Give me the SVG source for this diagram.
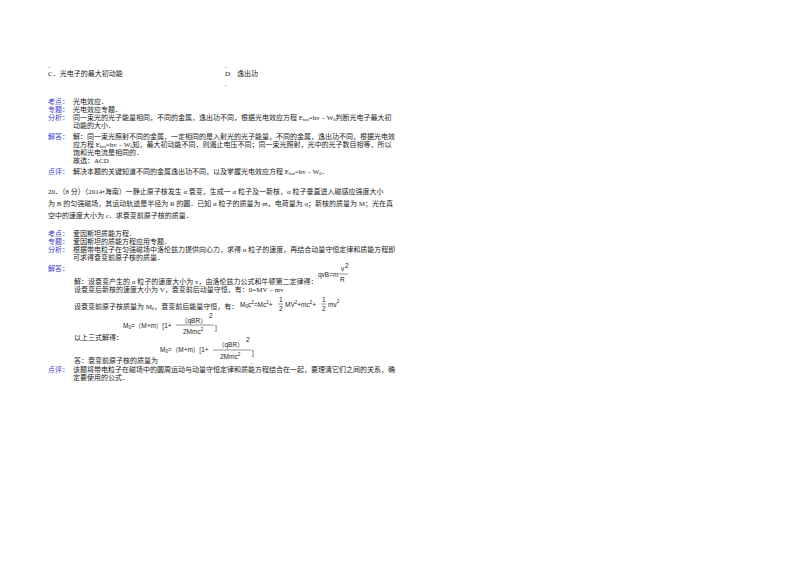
<svg xmlns="http://www.w3.org/2000/svg" width="800" height="566" viewBox="0 0 800 566">
<style>
text{font-family:"Liberation Serif","Noto Sans CJK SC",serif;font-size:7px;fill:#222}
.l{fill:#3a3ad0}
.f{font-family:"Liberation Sans","Noto Sans CJK SC",sans-serif;font-size:6.5px}
</style>
<rect width="800" height="566" fill="#fff"/>
<g id="options">
<text x="48" y="68">.</text>
<text x="48" y="76">C．光电子的最大初动能</text>
<text x="225" y="68">.</text>
<text x="225" y="76">D　逸出功</text>
<text x="225" y="86">.</text>
</g>
<g id="q19">
<text class="l" x="48" y="104">考点：</text><text x="73" y="104">光电效应．</text>
<text class="l" x="48" y="112">专题：</text><text x="73" y="112">光电效应专题．</text>
<text class="l" x="48" y="120">分析：</text><text x="73" y="120">同一束光的光子能量相同，不同的金属，逸出功不同，根据光电效应方程 E<tspan font-size="4.5" dy="1">km</tspan><tspan dy="-1">=hv﹣W</tspan><tspan font-size="4.5" dy="1">0</tspan><tspan dy="-1">判断光电子最大初</tspan></text>
<text x="73" y="128">动能的大小．</text>
<text class="l" x="48" y="139">解答：</text><text x="73" y="139">解：同一束光照射不同的金属，一定相同的是入射光的光子能量，不同的金属，逸出功不同，根据光电效</text>
<text x="73" y="147">应方程 E<tspan font-size="4.5" dy="1">km</tspan><tspan dy="-1">=hv﹣W</tspan><tspan font-size="4.5" dy="1">0</tspan><tspan dy="-1">知，最大初动能不同，则遏止电压不同；同一束光照射，光中的光子数目相等，所以</tspan></text>
<text x="73" y="155">饱和光电流是相同的．</text>
<text x="73" y="163">故选：ACD</text>
<text class="l" x="48" y="174">点评：</text><text x="73" y="174">解决本题的关键知道不同的金属逸出功不同，以及掌握光电效应方程 E<tspan font-size="4.5" dy="1">km</tspan><tspan dy="-1">=hv﹣W</tspan><tspan font-size="4.5" dy="1">0</tspan><tspan dy="-1">．</tspan></text>
</g>
<g id="q20">
<text x="48" y="194">20．（8 分）（2014•海南）一静止原子核发生 α 衰变，生成一 α 粒子及一新核，α 粒子垂直进入磁感应强度大小</text>
<text x="48" y="206">为 B 的匀强磁场，其运动轨迹是半径为 R 的圆．已知 α 粒子的质量为 m，电荷量为 q；新核的质量为 M；光在真</text>
<text x="48" y="218">空中的速度大小为 c．求衰变前原子核的质量．</text>
<text class="l" x="48" y="236">考点：</text><text x="73" y="236">爱因斯坦质能方程．</text>
<text class="l" x="48" y="244">专题：</text><text x="73" y="244">爱因斯坦的质能方程应用专题．</text>
<text class="l" x="48" y="252">分析：</text><text x="73" y="252">根据带电粒子在匀强磁场中洛伦兹力提供向心力，求得 α 粒子的速度，再结合动量守恒定律和质能方程即</text>
<text x="73" y="260">可求得衰变前原子核的质量．</text>
<text class="l" x="48" y="271">解答：</text>
<text x="74" y="284">解：设衰变产生的 α 粒子的速度大小为 v，由洛伦兹力公式和牛顿第二定律得：</text>
<text class="f" x="318" y="277">qvB=m</text><text class="f" x="341" y="271" font-size="5">v</text><text class="f" x="345" y="268" font-size="4">2</text>
<line x1="339" y1="274" x2="348" y2="274" stroke="#222" stroke-width="0.5"/><text class="f" x="340" y="282">R</text>
<text x="74" y="292">设衰变后新核的速度大小为 V，衰变前后动量守恒，有：0=MV﹣mv</text>
<text x="74" y="309">设衰变前原子核质量为 M<tspan font-size="4.5" dy="1">0</tspan><tspan dy="-1">，衰变前后能量守恒，有：</tspan></text>
<text class="f" x="240" y="307">M<tspan font-size="4.5" dy="1">0</tspan><tspan dy="-1">c</tspan><tspan font-size="4.5" dy="-3">2</tspan><tspan dy="3">=Mc</tspan><tspan font-size="4.5" dy="-3">2</tspan><tspan dy="3">+</tspan></text>
<text class="f" x="279" y="302">1</text><line x1="278" y1="304" x2="283" y2="304" stroke="#222" stroke-width="0.5"/><text class="f" x="279" y="311">2</text>
<text class="f" x="285" y="307">MV<tspan font-size="4.5" dy="-3">2</tspan><tspan dy="3">+mc</tspan><tspan font-size="4.5" dy="-3">2</tspan><tspan dy="3">+</tspan></text>
<text class="f" x="322" y="302">1</text><line x1="321" y1="304" x2="326" y2="304" stroke="#222" stroke-width="0.5"/><text class="f" x="322" y="311">2</text>
<text class="f" x="328" y="307">mv<tspan font-size="4.5" dy="-4">2</tspan></text>
<text class="f" x="123" y="328">M<tspan font-size="4.5" dy="1">0</tspan><tspan dy="-1">=（M+m）[1+</tspan></text>
<text class="f" x="181" y="323">（qBR）</text><text class="f" x="209" y="318" font-size="5">2</text>
<line x1="176" y1="325" x2="214" y2="325" stroke="#222" stroke-width="0.5"/>
<text class="f" x="183" y="334">2Mmc<tspan font-size="4.5" dy="-3">2</tspan></text><text class="f" x="215" y="330">]</text>
<text x="74" y="340">以上三式解得：</text>
<text class="f" x="160" y="352">M<tspan font-size="4.5" dy="1">0</tspan><tspan dy="-1">=（M+m）[1+</tspan></text>
<text class="f" x="218" y="347">（qBR）</text><text class="f" x="246" y="342" font-size="5">2</text>
<line x1="213" y1="350" x2="251" y2="350" stroke="#222" stroke-width="0.5"/>
<text class="f" x="220" y="359">2Mmc<tspan font-size="4.5" dy="-3">2</tspan></text><text class="f" x="252" y="355">]</text>
<text x="74" y="363">答：衰变前原子核的质量为</text><text x="251" y="364">.</text>
<text class="l" x="48" y="372">点评：</text><text x="73" y="372">该题将带电粒子在磁场中的圆周运动与动量守恒定律和质能方程结合在一起，要理清它们之间的关系，确</text>
<text x="73" y="380">定要使用的公式．</text>
</g>
</svg>
